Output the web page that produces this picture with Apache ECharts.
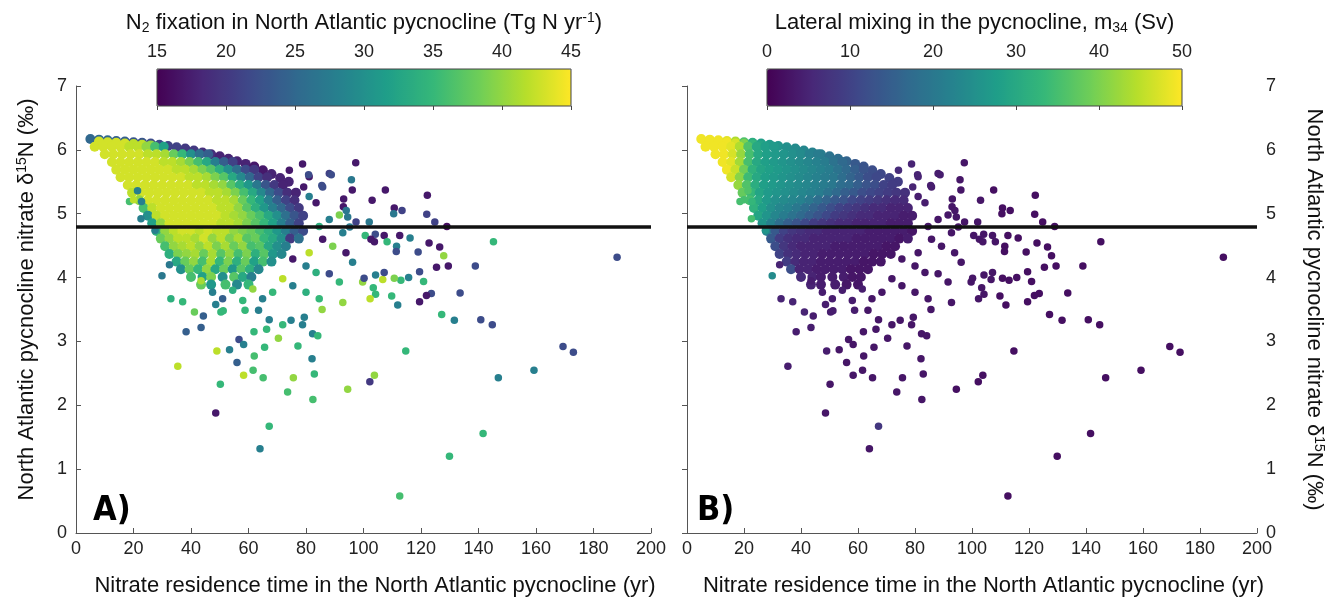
<!DOCTYPE html>
<html>
<head>
<meta charset="utf-8">
<title>Nitrate residence time vs d15N</title>
<script src="https://cdn.jsdelivr.net/npm/echarts@6.0.0/dist/echarts.min.js"></script>
<style>
  html, body { margin: 0; padding: 0; background: #fff; }
  #main { width: 1336px; height: 602px; }
</style>
</head>
<body>
<div id="main"></div>
<script>
// each run: [residence time (yr), d15N (permil), N2 fixation (Tg N/yr), lateral mixing m34 (Sv)]

// top boundary of the dense cloud
const upperEdge = [
  [5,6.17,25,49],[8,6.16,25,49],[11,6.15,25,49],[14,6.14,24,48],[17,6.13,24,44],[20,6.12,23,36],
  [23,6.11,23,31],[26,6.1,22,28],[29,6.08,22,27],[32,6.06,21,26],[35,6.04,21,25],[38,6.02,20,24],
  [41,5.99,20,23],[44,5.96,19,22],[47,5.93,19,21],[50,5.9,18,19],[53,5.86,18,18],[56,5.82,18,16],
  [59,5.78,18,14],[62,5.74,17,13],[65,5.68,17,12],[68,5.62,18,11],[71,5.56,18,10],[74,5.5,18,9]
]

// dense body of the cloud, read row by row
const coreRuns = [
  [8,6.13,43,49],[11,6.12,43,49],[14,6.11,43,49],[17,6.1,43,47],[20,6.09,42,40],[23,6.08,42,33],[26,6.07,40,29],
  [6.5,6.05,43,49],[9.5,6.05,43,49],[12.5,6.05,43,49],[15.5,6.05,43,48],[18.5,6.05,42,44],[21.5,6.05,42,36],[24.5,6.05,40,30],[27.5,6.05,36,28],[30.5,6.05,32,27],
  [10,5.93,43,49],[13,5.93,43,49],[16,5.93,43,47],[19,5.93,43,42],[22,5.93,43,35],[25,5.93,42,30],[28,5.93,42,28],[31,5.93,41,27],[34,5.93,38,26],[37,5.93,35,25],[40,5.93,30,24],[43,5.93,26,22],[46,5.93,24,21],
  [12.5,5.81,43,49],[15.5,5.81,43,48],[18.5,5.81,43,43],[21.5,5.81,43,35],[24.5,5.81,43,30],[27.5,5.81,43,28],[30.5,5.81,42,27],[33.5,5.81,42,26],[36.5,5.81,41,25],[39.5,5.81,39,24],[42.5,5.81,36,23],[45.5,5.81,33,22],[48.5,5.81,28,21],[51.5,5.81,24,19],[54.5,5.81,21,17],
  [14,5.69,43,49],[17,5.69,43,46],[20,5.69,43,39],[23,5.69,43,32],[26,5.69,43,29],[29,5.69,43,28],[32,5.69,43,27],[35,5.69,42,26],[38,5.69,42,25],[41,5.69,41,24],[44,5.69,39,23],[47,5.69,37,22],[50,5.69,34,21],[53,5.69,30,19],[56,5.69,26,17],[59,5.69,22,15],[62,5.69,20,13],
  [15.5,5.57,43,47],[18.5,5.57,43,41],[21.5,5.57,43,34],[24.5,5.57,43,30],[27.5,5.57,43,28],[30.5,5.57,43,27],[33.5,5.57,43,26],[36.5,5.57,43,25],[39.5,5.57,42,24],[42.5,5.57,42,23],[45.5,5.57,41,22],[48.5,5.57,39,21],[51.5,5.57,37,20],[54.5,5.57,33,18],[57.5,5.57,29,16],[60.5,5.57,25,14],[63.5,5.57,21,12],[66.5,5.57,19,11],
  [18,5.45,43,42],[21,5.45,43,36],[24,5.45,43,31],[27,5.45,43,28],[30,5.45,43,27],[33,5.45,43,26],[36,5.45,43,25],[39,5.45,43,24],[42,5.45,42,23],[45,5.45,42,22],[48,5.45,41,21],[51,5.45,40,20],[54,5.45,37,18],[57,5.45,34,17],[60,5.45,31,15],[63,5.45,27,13],[66,5.45,23,12],[69,5.45,20,10],[72,5.45,18,9],
  [19.5,5.33,42,38],[22.5,5.33,43,33],[25.5,5.33,43,29],[28.5,5.33,43,27],[31.5,5.33,43,26],[34.5,5.33,43,25],[37.5,5.33,43,24],[40.5,5.33,43,23],[43.5,5.33,43,22],[46.5,5.33,42,21],[49.5,5.33,42,19],[52.5,5.33,41,17],[55.5,5.33,39,15],[58.5,5.33,36,14],[61.5,5.33,33,12],[64.5,5.33,29,11],[67.5,5.33,25,10],[70.5,5.33,22,9],[73.5,5.33,19,8],[76.5,5.33,18,7],
  [22,5.21,40,35],[25,5.21,43,30],[28,5.21,43,27],[31,5.21,43,25],[34,5.21,43,24],[37,5.21,43,23],[40,5.21,43,22],[43,5.21,43,20],[46,5.21,43,18],[49,5.21,42,16],[52,5.21,42,14],[55,5.21,41,13],[58,5.21,38,11],[61,5.21,35,10],[64,5.21,32,9],[67,5.21,28,8],[70,5.21,24,7],[73,5.21,21,6],[76,5.21,19,6],
  [23.5,5.09,36,32],[26.5,5.09,42,28],[29.5,5.09,43,25],[32.5,5.09,43,23],[35.5,5.09,43,22],[38.5,5.09,43,20],[41.5,5.09,43,18],[44.5,5.09,43,16],[47.5,5.09,43,14],[50.5,5.09,42,12],[53.5,5.09,42,10],[56.5,5.09,40,9],[59.5,5.09,37,8],[62.5,5.09,34,7],[65.5,5.09,31,6],[68.5,5.09,28,6],[71.5,5.09,25,5],[74.5,5.09,22,5],[77.5,5.09,20,5],
  [25,4.97,30,29],[28,4.97,42,26],[31,4.97,43,23],[34,4.97,43,21],[37,4.97,43,19],[40,4.97,43,17],[43,4.97,43,15],[46,4.97,43,13],[49,4.97,43,11],[52,4.97,42,9],[55,4.97,41,8],[58,4.97,40,7],[61,4.97,38,6],[64,4.97,36,6],[67,4.97,33,5],[70,4.97,30,5],[73,4.97,26,5],[76,4.97,23,4],[79,4.97,21,4],
  [26.5,4.85,32,26],[29.5,4.85,40,22],[32.5,4.85,43,18],[35.5,4.85,43,15],[38.5,4.85,43,13],[41.5,4.85,43,11],[44.5,4.85,43,9],[47.5,4.85,43,8],[50.5,4.85,42,7],[53.5,4.85,42,6],[56.5,4.85,41,6],[59.5,4.85,39,5],[62.5,4.85,37,5],[65.5,4.85,35,5],[68.5,4.85,32,5],[71.5,4.85,28,4],[74.5,4.85,24,4],[77.5,4.85,21,4],
  [28,4.73,34,22],[31,4.73,40,14],[34,4.73,42,10],[37,4.73,43,8],[40,4.73,43,7],[43,4.73,42,6],[46,4.73,43,6],[49,4.73,42,5],[52,4.73,42,5],[55,4.73,40,5],[58,4.73,39,5],[61,4.73,38,5],[64,4.73,36,4],[67,4.73,34,4],[70,4.73,31,4],[73,4.73,28,4],[76,4.73,24,4],[79,4.73,22,3],
  [29.5,4.61,38,14],[32.5,4.61,40,9],[35.5,4.61,42,7],[38.5,4.61,42,6],[41.5,4.61,41,6],[44.5,4.61,43,5],[47.5,4.61,40,5],[50.5,4.61,42,5],[53.5,4.61,39,5],[56.5,4.61,41,5],[59.5,4.61,37,4],[62.5,4.61,38,4],[65.5,4.61,35,4],[68.5,4.61,33,4],[71.5,4.61,30,4],[74.5,4.61,20,3],[77.5,4.61,26,4],
  [31,4.49,36,12],[34,4.49,40,8],[37,4.49,41,6],[40,4.49,42,5],[43,4.49,40,5],[46,4.49,42,5],[49,4.49,39,5],[52,4.49,41,4],[55,4.49,38,4],[58,4.49,40,4],[61,4.49,36,4],[64,4.49,37,4],[67,4.49,33,4],[70,4.49,30,3],[73,4.49,28,3],
  [32.5,4.37,34,10],[35.5,4.37,39,7],[38.5,4.37,40,6],[41.5,4.37,41,5],[44.5,4.37,38,5],[47.5,4.37,41,4],[50.5,4.37,37,4],[53.5,4.37,40,4],[56.5,4.37,36,4],[59.5,4.37,39,4],[62.5,4.37,34,4],[65.5,4.37,37,3],[68.5,4.37,31,3],[71.5,4.37,29,3],
  [35,4.25,33,9],[38,4.25,38,6],[41,4.25,40,5],[44,4.25,36,5],[47,4.25,41,4],[50,4.25,35,4],[53,4.25,39,4],[56,4.25,34,4],[59,4.25,38,4],[62,4.25,32,3],[65,4.25,36,3],[68,4.25,30,3],
  [36.5,4.13,30,12],[39.5,4.13,38,5],[42.5,4.13,35,5],[45.5,4.13,40,4],[48.5,4.13,33,4],[51.5,4.13,38,4],[54.5,4.13,31,4],[57.5,4.13,37,3],[60.5,4.13,34,3],[63.5,4.13,29,3],
  [40,4.01,36,6],[44,4.01,32,5],[47,4.01,39,4],[51,4.01,30,4],[55,4.01,37,4],[58,4.01,33,3],[61,4.01,28,3],
  [43.5,3.89,38,5],[47,3.89,31,4],[52,3.89,36,4],[56,3.89,29,3],[60,3.89,35,3]
]

// looser halo round the cloud
const fringeRuns = [
  [32.5,4.2,27,5],[29.9,4.03,27,24],[33,3.67,34,5],[37.1,3.62,35,5],[41.2,3.46,38,5],[43.5,3.95,41,4],
  [47.5,3.77,28,4],[51,3.67,24,4],[54.5,3.8,34,4],[58,3.64,35,4],[61.5,3.82,40,4],[64.9,3.67,28,3],
  [68.4,3.77,35,3],[71.9,3.98,42,3],[75.4,3.87,28,3],[80,3.77,34,3],[84.6,3.67,35,3],[88.1,4.06,22,3],
  [91.6,3.93,35,3],[96.2,4.24,28,3],[99.7,3.93,40,3],[93.9,4.39,17,3],[89.3,4.49,39,3],[85.8,4.6,17,3],
  [92.8,4.7,28,3],[80,4.18,28,3],[83.5,4.08,34,3],[75.4,4.29,17,3],[81.1,4.39,42,3],[84.6,4.8,34,3],
  [88.1,4.91,28,3],[91.6,4.98,39,3],[83.5,5.17,17,4],[81.1,5.27,28,4],[85.8,5.42,22,4],[88.1,5.63,21,4],
  [81.1,5.58,17,5],[78.8,5.78,17,5],[74.2,5.68,17,6],[80.9,5.61,22,5],[79.2,5.42,17,5],[85.5,5.44,22,4],
  [88.8,5.61,22,4],[18.6,5.19,36,35],[20,5.22,42,35],[22.8,5.19,28,33],[22.6,4.92,28,35],[21.4,5.36,28,36],
  [27.5,4.74,28,26]
]

// isolated runs
const outlierRuns = [
  [97.3,5.8,17,3],[95.8,5.53,27,3],[96.1,5.37,17,3],[107.6,5.37,17,2],[103,5.21,17,3],[110.7,5.09,17,2],
  [113.4,5.05,21,2],[110.5,5.0,27,2],[122.2,5.29,17,2],[122,4.99,21,2],[124.8,4.87,21,2],[129,4.8,16,2],
  [102,4.87,27,3],[93.1,5.23,17,3],[93,5.11,17,3],[94,5.05,27,3],[94.5,4.95,27,3],[97.4,4.87,21,3],
  [95.2,4.79,27,3],[100.6,4.66,35,3],[104.1,4.68,22,3],[107.2,4.66,17,3],[112.6,4.66,17,2],[116.2,4.62,28,2],
  [102.6,4.6,17,3],[103.8,4.56,17,3],[108.2,4.56,35,3],[111.5,4.49,28,2],[111.4,4.41,22,2],[122.8,4.54,17,2],
  [126.5,4.48,17,2],[127.9,4.34,40,2],[125.4,4.16,17,2],[129.5,4.18,17,2],[138.9,4.18,22,2],[119,4.4,22,2],
  [145.2,4.56,35,2],[188.2,4.32,22,2],[133.6,3.76,22,2],[119.5,4.09,22,2],[120.9,3.94,35,2],[123.6,3.75,22,2],
  [121.9,3.72,17,2],[119.5,3.62,17,2],[115.7,4.0,28,2],[113,3.96,35,2],[110.7,3.99,39,2],[106.7,3.97,42,3],
  [104.2,4.04,28,3],[107.2,4.08,22,3],[100.2,3.99,22,3],[103.4,3.84,35,3],[104.2,3.74,35,3],[102.3,3.67,42,3],
  [109.8,3.71,35,2],[111.9,3.57,28,2],[127.2,3.42,35,2],[131.6,3.33,28,2],[140.8,3.34,22,2],[144.8,3.26,22,2],
  [114.7,2.85,35,2],[169.4,2.92,22,2],[173,2.83,22,2],[159.3,2.55,28,2],[146.9,2.43,28,2],[103.8,2.47,40,2],
  [102.2,2.37,20,2],[94.5,2.25,40,2],[141.6,1.56,35,2],[129.9,1.2,35,2],[112.6,0.58,36,2],[38.3,3.15,24,4],
  [43.5,3.22,24,4],[44.3,3.4,24,4],[35.4,2.61,42,4],[49,2.85,42,4],[53.4,2.87,28,3],[56.7,3.03,22,3],
  [58.3,2.95,28,3],[56,2.67,24,3],[50.2,2.33,35,3],[48.6,1.88,17,3],[58.3,2.47,42,3],[61.6,2.55,36,3],
  [65.1,2.43,36,3],[62,2.77,36,3],[65.6,2.91,35,3],[67.2,1.67,35,8],[64,1.32,28,3],[75.6,2.43,40,3],
  [73.6,2.21,36,3],[82.4,2.09,36,3],[82.9,2.49,35,3],[82.1,2.73,28,3],[77.2,2.93,35,3],[70.4,3.05,40,3],
  [66.3,3.19,35,3],[61.9,3.15,35,3],[85.6,3.5,40,3],[92.8,3.61,40,3],[48.6,3.58,28,4],[50.4,3.46,35,4],
  [51.2,3.48,35,4],[58.8,3.49,35,4],[63.5,3.49,28,3],[67.2,3.34,28,3],[71.9,3.26,35,3],[74.8,3.33,28,3],
  [78.8,3.26,28,3],[79.4,3.38,28,3],[82.3,3.12,28,3],[84.1,3.09,35,3]
]

const n2Range = [15, 45]
const mixRange = [0, 50]
const refLine = 4.8

const viridis = ['#440154', '#482878', '#3e4989', '#31688e', '#26828e', '#1f9e89', '#35b779', '#6ece58', '#b5de2b', '#fde725']
const font = 'Liberation Sans'

const chart = echarts.init(document.getElementById('main'))

const richText = {
  t: { fontSize: 22, color: '#111', fontFamily: font },
  sup: { fontSize: 14, color: '#111', fontFamily: font, padding: [0, 0, 10, 0] },
  sub: { fontSize: 14, color: '#111', fontFamily: font, padding: [10, 0, 0, 0] }
}

const xName = 'Nitrate residence time in the North Atlantic pycnocline (yr)'
const yName = '{t|North Atlantic pycnocline nitrate δ}{sup|15}{t|N (‰)}'

// main scatter axes
const mainX = (gridIndex) => ({
  type: 'value', gridIndex, min: 0, max: 200, interval: 20,
  axisLine: { lineStyle: { color: '#555' } },
  axisTick: { inside: true, length: 5, lineStyle: { color: '#555' } },
  axisLabel: { fontSize: 18, color: '#222', fontFamily: font, margin: 7 },
  splitLine: { show: false },
  name: xName, nameLocation: 'middle', nameGap: 42,
  // the original titles sit a little right of the axis centre
  nameTextStyle: { fontSize: 22, color: '#111', fontFamily: font, padding: [0, 0, 0, 23] }
})

const mainY = (gridIndex, right) => ({
  type: 'value', gridIndex, min: 0, max: 7, interval: 1,
  position: right ? 'right' : 'left',
  axisLine: { show: true, lineStyle: { color: '#555' } },
  axisTick: { show: true, inside: true, length: 5, lineStyle: { color: '#555' } },
  axisLabel: { fontSize: 18, color: '#222', fontFamily: font, margin: 9 },
  splitLine: { show: false },
  name: yName, nameLocation: 'middle', nameRotate: right ? -90 : 90,
  nameGap: right ? 45 : 37,
  nameTextStyle: { rich: richText, padding: right ? 0 : [0, 0, 0, 20] }
})

// colour bar axes (ticks and labels on top of the visualMap bars)
const barX = (gridIndex, range, step, title) => ({
  type: 'value', gridIndex, min: range[0], max: range[1], interval: step,
  position: 'top', z: 10,
  axisLine: { show: false },
  axisTick: { inside: true, length: 4, lineStyle: { color: '#444' } },
  axisLabel: { fontSize: 18, color: '#222', fontFamily: font, margin: 8 },
  splitLine: { show: false },
  name: title, nameLocation: 'middle', nameGap: 34,
  nameTextStyle: { rich: richText }
})

const markRef = {
  silent: true, symbol: ['none', 'none'], label: { show: false },
  lineStyle: { color: '#111', width: 3.5, type: 'solid' },
  data: [{ yAxis: refLine }]
}

// edge first so the body covers most of it, leaving a thin rim
const coreData = upperEdge.concat(coreRuns)
const sparseData = fringeRuns.concat(outlierRuns)

const dots = { opacity: 1 }

chart.setOption({
  animation: false,
  textStyle: { fontFamily: font },
  grid: [
    { left: 76, top: 86, width: 575, height: 455 },
    { left: 687, top: 86, width: 570, height: 455 },
    { left: 157, top: 69, width: 414, height: 37, show: true, borderColor: '#444', borderWidth: 1, z: 10 },
    { left: 767, top: 69, width: 415, height: 37, show: true, borderColor: '#444', borderWidth: 1, z: 10 }
  ],
  xAxis: [
    mainX(0),
    mainX(1),
    barX(2, n2Range, 5, '{t|N}{sub|2}{t| fixation in North Atlantic pycnocline (Tg N yr}{sup|-1}{t|)}'),
    barX(3, mixRange, 10, '{t|Lateral mixing in the pycnocline, m}{sub|34}{t| (Sv)}')
  ],
  yAxis: [
    mainY(0, false),
    mainY(1, true),
    { type: 'value', gridIndex: 2, show: false },
    { type: 'value', gridIndex: 3, show: false }
  ],
  visualMap: [
    {
      type: 'continuous', min: n2Range[0], max: n2Range[1], dimension: 2, seriesIndex: [0, 1],
      orient: 'horizontal', left: 157, top: 69, itemWidth: 37, itemHeight: 414, padding: 0,
      calculable: false, hoverLink: false, inRange: { color: viridis }
    },
    {
      type: 'continuous', min: mixRange[0], max: mixRange[1], dimension: 3, seriesIndex: [2, 3],
      orient: 'horizontal', left: 767, top: 69, itemWidth: 37, itemHeight: 415, padding: 0,
      calculable: false, hoverLink: false, inRange: { color: viridis }
    }
  ],
  graphic: [
    { type: 'text', left: 93, top: 494, style: { text: 'A)', font: 'bold 34px "DejaVu Sans Condensed", "DejaVu Sans"', fill: '#000' } },
    { type: 'text', left: 697, top: 494, style: { text: 'B)', font: 'bold 34px "DejaVu Sans Condensed", "DejaVu Sans"', fill: '#000' } }
  ],
  series: [
    { type: 'scatter', xAxisIndex: 0, yAxisIndex: 0, data: coreData, symbolSize: 10, itemStyle: dots, markLine: markRef },
    { type: 'scatter', xAxisIndex: 0, yAxisIndex: 0, data: sparseData, symbolSize: 7.5, itemStyle: dots },
    { type: 'scatter', xAxisIndex: 1, yAxisIndex: 1, data: coreData, symbolSize: 10, itemStyle: dots, markLine: markRef },
    { type: 'scatter', xAxisIndex: 1, yAxisIndex: 1, data: sparseData, symbolSize: 7.5, itemStyle: dots }
  ]
})
</script>
</body>
</html>
